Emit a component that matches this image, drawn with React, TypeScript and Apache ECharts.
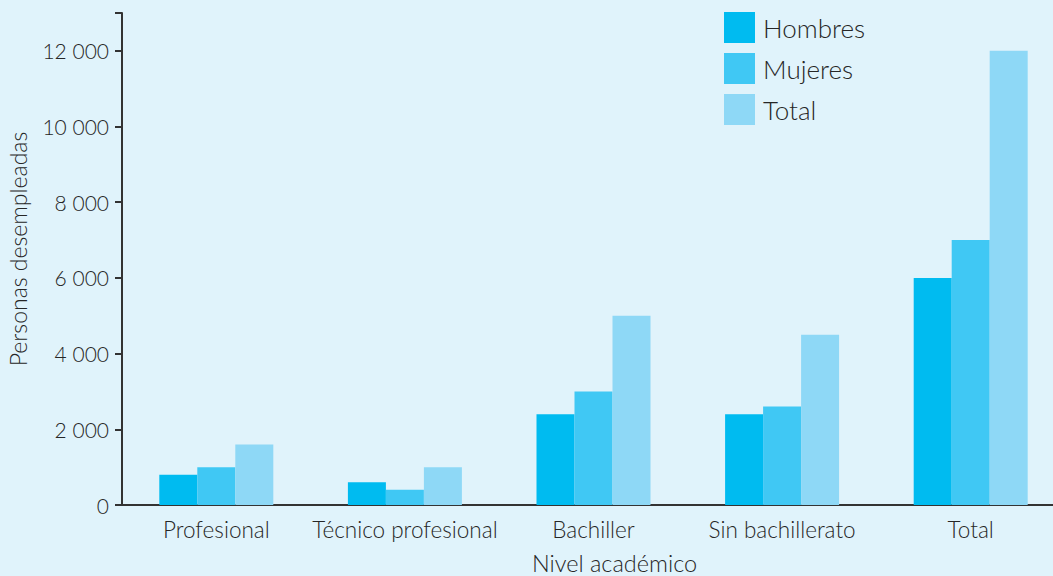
import React, { useEffect, useRef } from "react";
import * as echarts from "echarts";

const categories = ["Profesional", "Técnico profesional", "Bachiller", "Sin bachillerato", "Total"];
const hombres = [800, 600, 2400, 2400, 6000];
const mujeres = [1000, 400, 3000, 2600, 7000];
const total = [1600, 1000, 5000, 4500, 12000];
const seriesNames = ["Hombres", "Mujeres", "Total"];
const colors = ["#00bbf0", "#40c8f4", "#8ed8f6"];

const FONT = "Lato, sans-serif";
const TXT = "#262626";
const W = 300;

function fmt(v: number): string {
  if (v >= 13000) return "";
  const s = String(v);
  return s.replace(/\B(?=(\d{3})+(?!\d))/g, " ");
}

export default function App() {
  const ref = useRef<HTMLDivElement>(null);
  useEffect(() => {
    if (!ref.current) return;
    const chart = echarts.init(ref.current, null, { renderer: "svg" });
    const data = [hombres, mujeres, total];
    chart.setOption({
      animation: false,
      backgroundColor: "#e0f3fb",
      textStyle: { fontFamily: FONT, fontWeight: W },
      grid: { left: 122, right: -12, top: 13, bottom: 71, containLabel: false, outerBoundsMode: "none" },
      legend: {
        orient: "vertical",
        left: 719,
        top: 7,
        itemWidth: 31,
        itemHeight: 31,
        itemGap: 10,
        icon: "rect",
        data: seriesNames,
        textStyle: { fontSize: 26, color: TXT, fontFamily: FONT, fontWeight: W, padding: [0, 0, 0, 3] },
      },
      xAxis: {
        type: "category",
        data: categories,
        name: "Nivel académico",
        nameLocation: "middle",
        nameGap: 46,
        nameTextStyle: { fontSize: 23.5, lineHeight: 23, color: TXT, fontFamily: FONT, fontWeight: W, padding: [0, 0, 0, 42] },
        axisLine: { lineStyle: { color: "#333", width: 2 } },
        axisTick: { show: false },
        axisLabel: { fontSize: 22.5, color: TXT, fontFamily: FONT, fontWeight: W, margin: 13, interval: 0 },
      },
      yAxis: {
        type: "value",
        min: 0,
        max: 13000,
        interval: 2000,
        name: "Personas desempleadas",
        nameLocation: "middle",
        nameGap: 93,
        nameTextStyle: { fontSize: 23, color: TXT, fontFamily: FONT, fontWeight: W, padding: [0, 0, 0, 20] },
        axisLine: { show: true, lineStyle: { color: "#333", width: 2 } },
        axisTick: { show: true, length: 7, lineStyle: { color: "#333", width: 2 } },
        splitLine: { show: false },
        axisLabel: { fontSize: 21, color: TXT, fontFamily: FONT, fontWeight: W, margin: 13, formatter: fmt },
      },
      series: seriesNames.map((n, i) => ({
        name: n,
        type: "bar",
        data: data[i],
        barWidth: 38,
        barGap: "0%",
        itemStyle: { color: colors[i] },
      })),
    });
    return () => chart.dispose();
  }, []);
  return <div ref={ref} style={{ width: 1053, height: 576, position: "absolute", left: 0, top: 0 }} />;
}
